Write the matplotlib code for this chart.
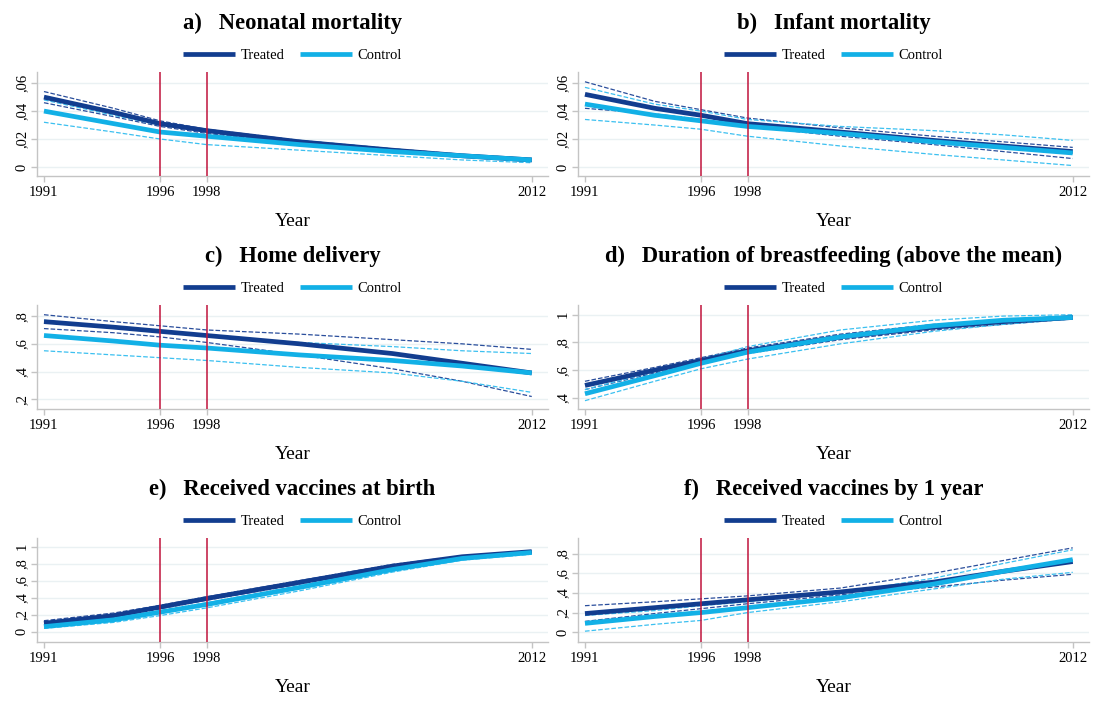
import numpy as np
import matplotlib

matplotlib.use("Agg")
import matplotlib.pyplot as plt

plt.rcParams["font.family"] = ["Liberation Serif", "DejaVu Serif"]

years = [1991, 1994, 1996, 1998, 2002, 2006, 2009, 2012]

titles = [
    "a)   Neonatal mortality",
    "b)   Infant mortality",
    "c)   Home delivery",
    "d)   Duration of breastfeeding (above the mean)",
    "e)   Received vaccines at birth",
    "f)   Received vaccines by 1 year",
]

# a) neonatal mortality
a_treat = [.050, .039, .031, .026, .018, .012, .008, .005]
a_treat_hi = [.054, .042, .033, .027, .019, .013, .009, .006]
a_treat_lo = [.046, .036, .029, .024, .017, .011, .007, .004]
a_ctrl = [.040, .031, .025, .022, .016, .011, .008, .005]
a_ctrl_hi = [.048, .037, .030, .026, .019, .013, .009, .006]
a_ctrl_lo = [.032, .025, .020, .016, .012, .008, .005, .003]

# b) infant mortality
b_treat = [.052, .042, .037, .031, .025, .019, .015, .011]
b_treat_hi = [.061, .047, .041, .035, .028, .022, .018, .014]
b_treat_lo = [.042, .038, .034, .029, .022, .016, .011, .006]
b_ctrl = [.045, .037, .033, .029, .024, .018, .014, .010]
b_ctrl_hi = [.057, .045, .040, .034, .029, .026, .023, .019]
b_ctrl_lo = [.034, .030, .027, .022, .015, .009, .005, .001]

# c) home delivery
c_treat = [.76, .72, .69, .66, .60, .53, .46, .39]
c_treat_hi = [.81, .76, .73, .70, .67, .63, .60, .56]
c_treat_lo = [.71, .68, .65, .61, .52, .42, .33, .22]
c_ctrl = [.66, .62, .59, .57, .52, .48, .44, .39]
c_ctrl_hi = [.77, .72, .69, .66, .61, .58, .55, .53]
c_ctrl_lo = [.55, .52, .50, .48, .43, .39, .33, .25]

# d) breastfeeding
d_treat = [.49, .60, .67, .74, .84, .91, .95, .98]
d_treat_hi = [.52, .62, .69, .76, .86, .93, .96, .99]
d_treat_lo = [.46, .58, .65, .72, .82, .89, .93, .97]
d_ctrl = [.43, .56, .65, .73, .84, .92, .96, .98]
d_ctrl_hi = [.46, .59, .68, .77, .89, .96, .99, 1.00]
d_ctrl_lo = [.38, .52, .61, .68, .79, .88, .93, .97]

# e) vaccines at birth
e_treat = [.10, .19, .29, .39, .58, .77, .88, .94]
e_treat_hi = [.13, .22, .31, .41, .60, .79, .89, .95]
e_treat_lo = [.08, .17, .27, .37, .56, .75, .87, .93]
e_ctrl = [.06, .14, .23, .32, .52, .73, .86, .93]
e_ctrl_hi = [.08, .16, .25, .34, .54, .75, .87, .94]
e_ctrl_lo = [.04, .11, .19, .28, .48, .70, .84, .91]

# f) vaccines by 1 year
f_treat = [.19, .25, .29, .33, .41, .51, .62, .72]
f_treat_hi = [.27, .31, .34, .37, .45, .60, .73, .86]
f_treat_lo = [.11, .19, .24, .29, .38, .46, .53, .59]
f_ctrl = [.09, .16, .20, .25, .35, .49, .62, .74]
f_ctrl_hi = [.17, .22, .27, .31, .40, .55, .70, .84]
f_ctrl_lo = [.01, .08, .12, .20, .31, .44, .54, .61]

series = [
    (a_treat, a_treat_hi, a_treat_lo, a_ctrl, a_ctrl_hi, a_ctrl_lo),
    (b_treat, b_treat_hi, b_treat_lo, b_ctrl, b_ctrl_hi, b_ctrl_lo),
    (c_treat, c_treat_hi, c_treat_lo, c_ctrl, c_ctrl_hi, c_ctrl_lo),
    (d_treat, d_treat_hi, d_treat_lo, d_ctrl, d_ctrl_hi, d_ctrl_lo),
    (e_treat, e_treat_hi, e_treat_lo, e_ctrl, e_ctrl_hi, e_ctrl_lo),
    (f_treat, f_treat_hi, f_treat_lo, f_ctrl, f_ctrl_hi, f_ctrl_lo),
]

yticks = [
    [0, .02, .04, .06],
    [0, .02, .04, .06],
    [.2, .4, .6, .8],
    [.4, .6, .8, 1],
    [0, .2, .4, .6, .8, 1],
    [0, .2, .4, .6, .8],
]
ylims = [(-.0065, .068), (-.0065, .068), (.13, .88), (.32, 1.07), (-.12, 1.10), (-.10, .96)]

xticks = [1991, 1996, 1998, 2012]
policy_years = [1996, 1998]

C_TREAT = "#123d8f"
C_CTRL = "#12b0e6"
C_TREAT_CI = "#2a4e9c"
C_CTRL_CI = "#3cc0f0"
C_RED = "#c0143c"
C_AXIS = "#c4c4c4"


def stata_label(v):
    if v == 0:
        return "0"
    if v == 1:
        return "1"
    s = f"{v:.2f}".rstrip("0")
    return s.replace("0.", ",")


fig = plt.figure(figsize=(10.98, 7.02), dpi=100)
W, H = 1098.0, 702.0
lefts = [37, 578]
width = 511
tops = [72, 305, 538]
height = 104

for i in range(6):
    row, col = divmod(i, 2)
    ax = fig.add_axes([lefts[col] / W, 1 - (tops[row] + height) / H, width / W, height / H])
    tr, tr_hi, tr_lo, ct, ct_hi, ct_lo = series[i]

    for ytk in yticks[i]:
        ax.axhline(ytk, color="#eaf1f3", lw=1.0, zorder=0)

    ax.plot(years, tr_hi, "--", color=C_TREAT_CI, lw=0.9, zorder=2)
    ax.plot(years, tr_lo, "--", color=C_TREAT_CI, lw=0.9, zorder=2)
    ax.plot(years, ct_hi, "--", color=C_CTRL_CI, lw=0.9, zorder=2)
    ax.plot(years, ct_lo, "--", color=C_CTRL_CI, lw=0.9, zorder=2)
    ax.plot(years, tr, color=C_TREAT, lw=3.4, label="Treated", zorder=3, solid_capstyle="butt")
    ax.plot(years, ct, color=C_CTRL, lw=3.4, label="Control", zorder=3, solid_capstyle="butt")

    for py in policy_years:
        ax.axvline(py, color=C_RED, lw=1.1, zorder=4)

    ax.set_xlim(1990.7, 2012.7)
    ax.set_ylim(*ylims[i])
    ax.set_xticks(xticks)
    ax.set_xticklabels([str(x) for x in xticks], fontsize=10.5)
    ax.set_yticks(yticks[i])
    ax.set_yticklabels([stata_label(v) for v in yticks[i]], fontsize=10.5,
                       rotation=90, va="center")
    ax.tick_params(axis="both", colors=C_AXIS, labelcolor="black", length=4, width=1.0)
    ax.tick_params(axis="x", pad=3)
    ax.tick_params(axis="y", pad=2)
    for side in ("top", "right"):
        ax.spines[side].set_visible(False)
    for side in ("left", "bottom"):
        ax.spines[side].set_color(C_AXIS)
        ax.spines[side].set_linewidth(1.0)

    ax.set_xlabel("Year", fontsize=14, labelpad=10)
    ax.set_title(titles[i], fontsize=16.3, fontweight="bold", pad=31)
    ax.legend(loc="lower center", bbox_to_anchor=(0.5, 1.0), ncol=2, frameon=False,
              fontsize=10.5, handlelength=3.6, handletextpad=0.4, columnspacing=1.0,
              borderaxespad=0.3)

fig.savefig("out.png", dpi=100)
